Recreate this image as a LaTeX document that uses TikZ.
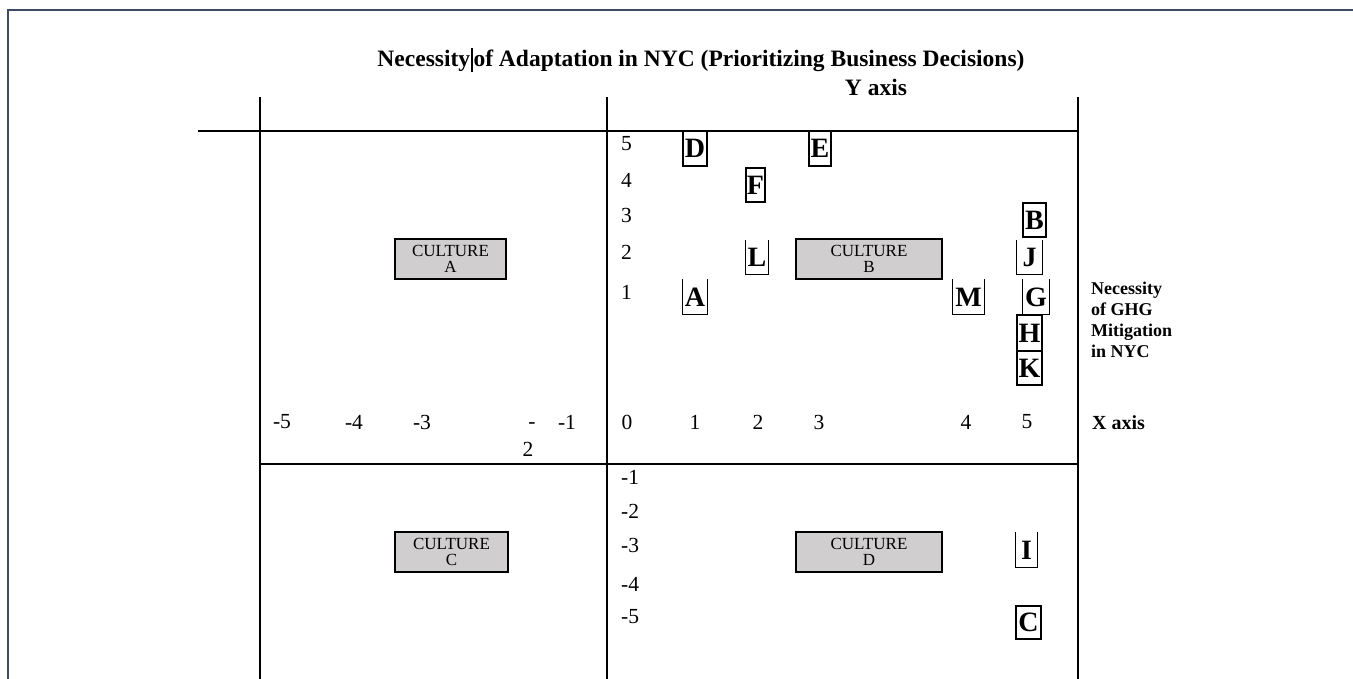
\documentclass[tikz,border=0pt]{standalone}
\usepackage{fontspec}
\setmainfont{Liberation Serif}

\definecolor{framecol}{HTML}{3D4B60}
\definecolor{cultgray}{HTML}{D0CECE}

\tikzset{
    gridline/.style={line width=1.6pt, black},
    tick/.style={font=\fontsize{21.5}{24}\selectfont, inner sep=0pt},
    ltr/.style={font=\fontsize{28}{30}\selectfont\bfseries, inner sep=0pt, line width=1.3pt},
    fullbox/.style={ltr, draw},
    cult/.style={draw, fill=cultgray, line width=1.5pt, inner sep=0pt, align=center,
        font=\fontsize{17}{16}\selectfont},
}

\begin{document}
\begin{tikzpicture}[x=1pt, y=-1pt]
                \useasboundingbox (0,0) rectangle (1353,679);

                % page frame
                \draw[framecol, line width=2pt] (8,679) -- (8,10) -- (1353,10);

                % quadrant lines
                \draw[gridline] (260,97) -- (260,679);
                \draw[gridline] (607,97) -- (607,679);
                \draw[gridline] (1078,97) -- (1078,679);
                \draw[gridline] (198,131) -- (1078,131);
                \draw[gridline] (260,464) -- (1078,464);

                % titles
                \node[font=\fontsize{23.5}{27}\selectfont\bfseries, inner sep=0pt] (title) at (701,60)
                    {Necessity\kern0.5pt\rule[-0.25em]{2.4pt}{1.05em}\kern0.5pt of Adaptation in NYC (Prioritizing Business Decisions)};
                \node[font=\fontsize{23.5}{27}\selectfont\bfseries, inner sep=0pt] (yaxis) at (876,87) {Y axis};
                \node[font=\fontsize{20}{24}\selectfont\bfseries, inner sep=0pt, anchor=west] (xaxis) at (1092,423) {X axis};
                \node[font=\fontsize{18}{21}\selectfont\bfseries, inner sep=0pt, anchor=north west, align=left] (ghg) at (1091,282)
                    {Necessity\\of GHG\\Mitigation\\in NYC};

                % y ticks
                \foreach \v/\y in {5/144, 4/180, 3/215, 2/252, 1/292}
                    \node[tick, anchor=west] (yp\v) at (621,\y) {\v};
                \foreach \v/\y in {1/477, 2/511, 3/545, 4/584, 5/617}
                    \node[tick, anchor=west] (yn\v) at (621,\y) {-\v};

                % x ticks
                \foreach \v/\x in {0/627, 1/695, 2/758, 3/819, 4/966, 5/1027}
                    \node[tick] (xp\v) at (\x,422) {\v};
                \foreach \v/\x in {5/282, 4/354, 3/422, 1/567}
                    \node[tick] (xn\v) at (\x,422) {-\v};
                \node[tick, align=center, font=\fontsize{21.5}{28}\selectfont] (xn2) at (528,440) {\kern8pt-\\2};

                % culture boxes
                \node[cult, minimum width=111pt, minimum height=40pt] (cultA) at (450.5,259) {CULTURE\\A};
                \node[cult, minimum width=146pt, minimum height=40pt] (cultB) at (869,259) {CULTURE\\B};
                \node[cult, minimum width=113pt, minimum height=40pt] (cultC) at (451.5,552) {CULTURE\\C};
                \node[cult, minimum width=146pt, minimum height=40pt] (cultD) at (869,552) {CULTURE\\D};

                % letters with closed boxes
                \node[fullbox, minimum width=24pt, minimum height=35pt] (D) at (695,148.5) {D};
                \node[fullbox, minimum width=22pt, minimum height=35pt] (E) at (820,148.5) {E};
                \node[fullbox, minimum width=19pt, minimum height=34pt] (F) at (755.5,185) {F};
                \node[fullbox, minimum width=23pt, minimum height=34pt] (B) at (1034.5,220) {B};
                \node[fullbox, minimum width=25pt, minimum height=36pt] (H) at (1029.5,333) {H};
                \node[fullbox, minimum width=25pt, minimum height=34pt] (K) at (1029.5,368) {K};
                \node[fullbox, minimum width=25pt, minimum height=33pt] (C) at (1028.5,622.5) {C};

                % letters whose boxes lack a top
                \node[ltr, minimum width=22pt, minimum height=33pt] (L) at (757,257.5) {L};
                \node[ltr, minimum width=24pt, minimum height=34pt] (A) at (695,297) {A};
                \node[ltr, minimum width=25pt, minimum height=33pt] (J) at (1029.5,257.5) {J};
                \node[ltr, minimum width=31pt, minimum height=34pt] (M) at (968.5,297) {M};
                \node[ltr, minimum width=26pt, minimum height=34pt] (G) at (1036,297) {G};
                \node[ltr, minimum width=21pt, minimum height=34pt] (I) at (1026.5,550) {I};
                \foreach \n in {L,A,J,M,G,I}
                    \draw[line width=1.3pt] (\n.north west) |- (\n.south east) -- (\n.north east);
            \end{tikzpicture}
\end{document}
